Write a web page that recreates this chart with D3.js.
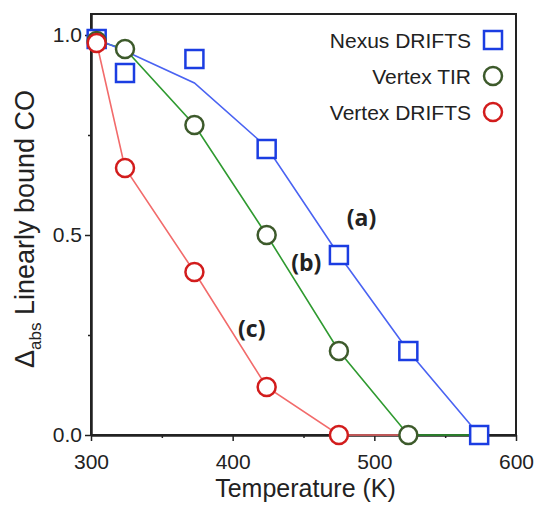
<!DOCTYPE html>
<html>
<head>
<meta charset="utf-8">
<script src="https://cdn.jsdelivr.net/npm/d3@7"></script>
<style>
  body { margin: 0; background: #fff; }
  text { font-family: "Liberation Sans", Arial, sans-serif; fill: #222; }
</style>
</head>
<body>
<div id="chart-container"></div>
<script>
// temperatures (K) at which the spectra were measured
var temps = [304, 324, 373, 424, 475, 524, 574];

// Nexus DRIFTS (a)
var nexusPoints = [0.99, 0.905, 0.94, 0.715, 0.45, 0.21, 0.0];
var nexusLine = [0.99, 0.96, 0.88, 0.72, 0.45, 0.21, 0.0];

// Vertex TIR (b)
var tirPoints = [0.985, 0.965, 0.775, 0.50, 0.21, 0.0];
var tirLine = [0.985, 0.965, 0.775, 0.50, 0.21, 0.0, 0.0];

// Vertex DRIFTS (c)
var driftsPoints = [0.98, 0.6675, 0.4075, 0.12, 0.0];
var driftsLine = [0.98, 0.6675, 0.4075, 0.12, 0.0, 0.0];

var xTicks = [300, 400, 500, 600];
var xMinor = [350, 450, 550];
var yTicks = [0.0, 0.5, 1.0];
var yMinor = [0.25, 0.75];

var legendNames = ["Nexus DRIFTS", "Vertex TIR", "Vertex DRIFTS"];
var curveLabels = [
  { text: "(a)", x: 491, y: 0.545 },
  { text: "(b)", x: 452, y: 0.4325 },
  { text: "(c)", x: 413.5, y: 0.2675 }
];

var blueMark = "#1b3de2", blueLine = "#4a63f2";
var greenMark = "#3d5a2b", greenLine = "#2f9a30";
var redMark = "#d21c1c", redLine = "#f26b6b";

var margin = {top: 14, right: 21, bottom: 70, left: 91}
  , width = 537 - margin.left - margin.right
  , height = 505 - margin.top - margin.bottom;

var x = d3.scaleLinear()
  .domain([300, 600])
  .range([0, width]);

var y = d3.scaleLinear()
  .domain([0, 1.0525])
  .range([height, 0]);

var svg = d3.select("#chart-container")
  .append("svg")
  .attr("width", 537)
  .attr("height", 505);

var main = svg.append("g")
  .attr("transform", "translate(" + margin.left + "," + margin.top + ")");

// frame
main.append("rect")
  .attr("x", 0)
  .attr("y", 0)
  .attr("width", width)
  .attr("height", height)
  .attr("fill", "none")
  .attr("stroke", "#222")
  .attr("stroke-width", 2);

// axes
var xAxis = d3.axisBottom(x)
  .tickValues(xTicks)
  .tickSize(6)
  .tickSizeOuter(0)
  .tickPadding(13)
  .tickFormat(d3.format("d"));

main.append("g")
  .attr("transform", "translate(0," + height + ")")
  .call(xAxis);

main.append("g")
  .attr("transform", "translate(0," + height + ")")
  .call(d3.axisBottom(x).tickValues(xMinor).tickSize(3).tickSizeOuter(0).tickFormat(""));

var yAxis = d3.axisLeft(y)
  .tickValues(yTicks)
  .tickSize(6)
  .tickSizeOuter(0)
  .tickPadding(3)
  .tickFormat(d3.format(".1f"));

main.append("g")
  .call(yAxis);

main.append("g")
  .call(d3.axisLeft(y).tickValues(yMinor).tickSize(3).tickSizeOuter(0).tickFormat(""));

main.selectAll(".domain").attr("stroke", "#222").attr("stroke-width", 2);
main.selectAll(".tick line").attr("stroke", "#222").attr("stroke-width", 1.5);
main.selectAll(".tick text")
  .style("font-family", "'Liberation Sans', Arial, sans-serif")
  .style("font-size", "21px")
  .attr("fill", "#222");

// axis titles
svg.append("text")
  .attr("x", margin.left + width / 2 + 2)
  .attr("y", 497)
  .attr("text-anchor", "middle")
  .style("font-size", "25px")
  .text("Temperature (K)");

var yTitle = svg.append("text")
  .attr("transform", "translate(34,229) rotate(-90)")
  .attr("text-anchor", "middle")
  .style("font-size", "27px");
yTitle.append("tspan").text("\u0394");
yTitle.append("tspan").attr("dy", 7).style("font-size", "17px").text("abs");
yTitle.append("tspan").attr("dy", -7).text(" Linearly bound CO");

// lines
var line = d3.line()
  .x(function(d) { return x(d[0]); })
  .y(function(d) { return y(d[1]); });

function pairs(values) {
  return values.map(function(v, i) { return [temps[i], v]; });
}

main.append("path")
  .attr("d", line(pairs(driftsLine)))
  .attr("fill", "none")
  .attr("stroke", redLine)
  .attr("stroke-width", 1.6);

main.append("path")
  .attr("d", line(pairs(tirLine)))
  .attr("fill", "none")
  .attr("stroke", greenLine)
  .attr("stroke-width", 1.6);

main.append("path")
  .attr("d", line(pairs(nexusLine)))
  .attr("fill", "none")
  .attr("stroke", blueLine)
  .attr("stroke-width", 1.6);

// markers
main.selectAll(".sq")
  .data(pairs(nexusPoints))
  .enter().append("rect")
  .attr("class", "sq")
  .attr("x", function(d) { return x(d[0]) - 9; })
  .attr("y", function(d) { return y(d[1]) - 9; })
  .attr("width", 18)
  .attr("height", 18)
  .attr("fill", "#fff")
  .attr("stroke", blueMark)
  .attr("stroke-width", 2.5);

main.selectAll(".tir")
  .data(pairs(tirPoints))
  .enter().append("circle")
  .attr("class", "tir")
  .attr("cx", function(d) { return x(d[0]); })
  .attr("cy", function(d) { return y(d[1]); })
  .attr("r", 9)
  .attr("fill", "#fff")
  .attr("stroke", greenMark)
  .attr("stroke-width", 2.5);

main.selectAll(".drifts")
  .data(pairs(driftsPoints))
  .enter().append("circle")
  .attr("class", "drifts")
  .attr("cx", function(d) { return x(d[0]); })
  .attr("cy", function(d) { return y(d[1]); })
  .attr("r", 9)
  .attr("fill", "#fff")
  .attr("stroke", redMark)
  .attr("stroke-width", 2.5);

// curve labels
main.selectAll(".curve-label")
  .data(curveLabels)
  .enter().append("text")
  .attr("class", "curve-label")
  .attr("x", function(d) { return x(d.x); })
  .attr("y", function(d) { return y(d.y); })
  .attr("text-anchor", "middle")
  .attr("dominant-baseline", "central")
  .style("font-family", "'Open Sans', 'DejaVu Sans', sans-serif")
  .style("font-weight", "bold")
  .style("font-size", "23px")
  .text(function(d) { return d.text; });

// legend
var legend = svg.append("g")
  .attr("transform", "translate(493,40)");

var legendRows = legend.selectAll("g")
  .data(legendNames)
  .enter().append("g")
  .attr("transform", function(d, i) { return "translate(0," + (i * 36) + ")"; });

legendRows.append("text")
  .attr("x", -22)
  .attr("y", 0)
  .attr("text-anchor", "end")
  .attr("dominant-baseline", "central")
  .style("font-size", "21px")
  .text(function(d) { return d; });

legendRows.each(function(d, i) {
  var g = d3.select(this);
  if (i === 0) {
    g.append("rect")
      .attr("x", -9).attr("y", -9)
      .attr("width", 18).attr("height", 18)
      .attr("fill", "#fff")
      .attr("stroke", blueMark)
      .attr("stroke-width", 2.5);
  } else {
    g.append("circle")
      .attr("r", 9)
      .attr("fill", "#fff")
      .attr("stroke", i === 1 ? greenMark : redMark)
      .attr("stroke-width", 2.5);
  }
});
</script>
</body>
</html>
